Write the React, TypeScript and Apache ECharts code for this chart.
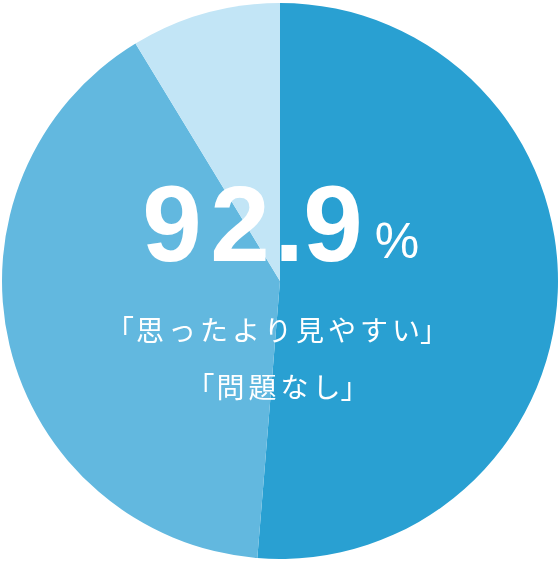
import React, { useEffect, useRef } from 'react';
import * as echarts from 'echarts';

// slice shares (clockwise from 12 o'clock)
const sliceNames = ['思ったより見やすい', 'まあまあ見やすい', 'その他'];
const sliceValues = [51.3, 40.0, 8.7];
const sliceColors = ['#29a0d2', '#62b8df', '#c2e5f6'];

const headline = ['9', '2', '.', '9'];
const headlineUnit = '%';
const captionLines = ['思ったより見やすい', '問題なし'];

const App: React.FC = () => {
  const chartRef = useRef<HTMLDivElement>(null);

  useEffect(() => {
    if (!chartRef.current) return;
    const chart = echarts.init(chartRef.current, undefined, { renderer: 'svg' });

    // 数字は字間が広いので一文字ずつ置く
    const numAdvance = [0, 68, 49, 44];
    let nx = 172;
    const numberTexts = headline.map((ch, i) => {
      nx += numAdvance[i];
      return {
        type: 'text',
        z: 100,
        x: nx,
        y: 223.5,
        style: {
          text: ch,
          fill: '#fff',
          fontFamily: '"Liberation Sans", Arial, sans-serif',
          fontSize: 107,
          fontWeight: 'bold',
          textAlign: 'center',
          textVerticalAlign: 'middle'
        }
      };
    });

    const jpText = (ch: string, x: number, y: number) => ({
      type: 'text',
      z: 100,
      x,
      y,
      style: {
        text: ch,
        fill: '#fff',
        fontFamily: '"Noto Sans CJK JP", sans-serif',
        fontSize: 28,
        textAlign: 'center',
        textVerticalAlign: 'middle'
      }
    });

    // 鉤括弧は詰めて置く
    const caption = (text: string, cx: number, y: number, advance: number) => {
      const chars = Array.from(text);
      const first = cx - ((chars.length - 1) * advance) / 2;
      const last = first + (chars.length - 1) * advance;
      return [
        jpText('「', first - 30, y),
        ...chars.map((ch, i) => jpText(ch, first + i * advance, y)),
        jpText('」', last + 28, y)
      ];
    };

    chart.setOption({
      animation: false,
      series: [
        {
          type: 'pie',
          center: [280, 281],
          radius: 278,
          startAngle: 90,
          clockwise: true,
          silent: true,
          label: { show: false },
          labelLine: { show: false },
          itemStyle: { borderWidth: 0 },
          data: sliceValues.map((v, i) => ({
            name: sliceNames[i],
            value: v,
            itemStyle: { color: sliceColors[i] }
          }))
        }
      ],
      graphic: [
        ...numberTexts,
        {
          type: 'text',
          z: 100,
          x: 397,
          y: 241,
          style: {
            text: headlineUnit,
            fill: '#fff',
            fontFamily: '"Liberation Sans", Arial, sans-serif',
            fontSize: 50,
            textAlign: 'center',
            textVerticalAlign: 'middle'
          }
        },
        ...caption(captionLines[0], 278, 328.5, 32),
        ...caption(captionLines[1], 278.5, 386, 32)
      ]
    });

    return () => {
      chart.dispose();
    };
  }, []);

  return (
    <div
      ref={chartRef}
      style={{ position: 'fixed', left: 0, top: 0, width: 560, height: 563 }}
    />
  );
};

export default App;
